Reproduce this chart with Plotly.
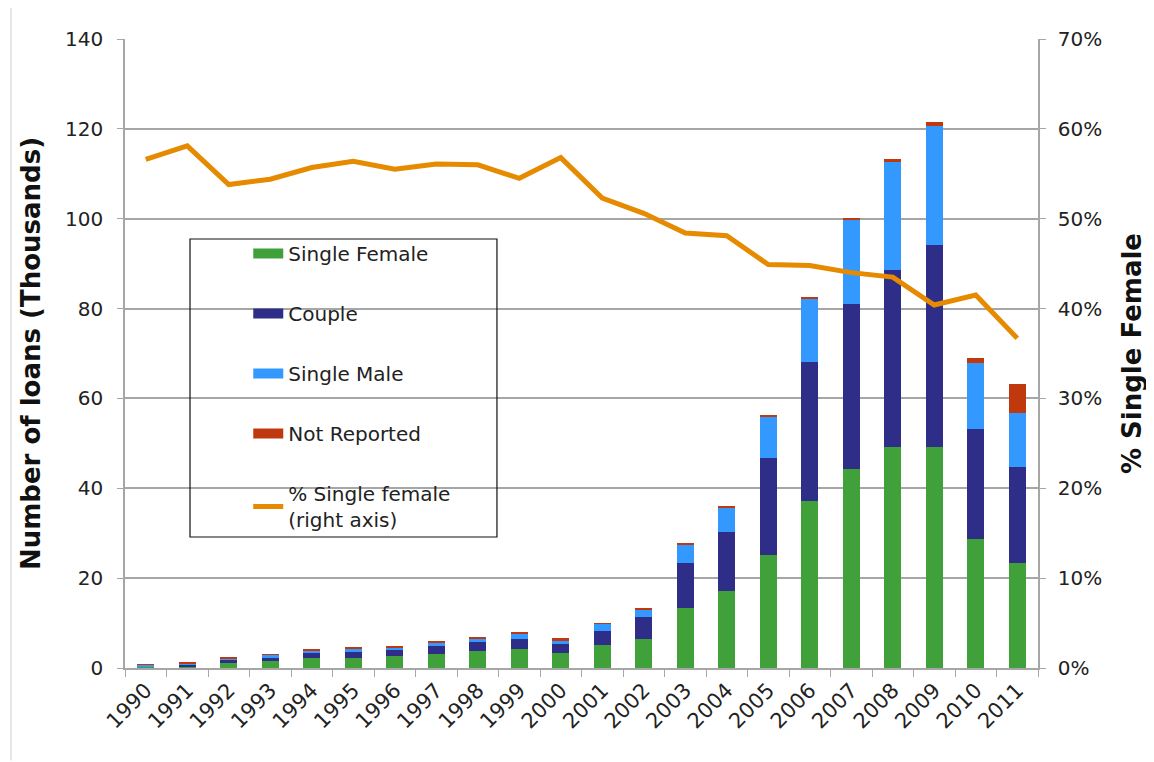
import plotly.graph_objects as go

years = [str(y) for y in range(1990, 2012)]
single_female = [0.3, 0.35, 1.2, 1.45, 2.3, 2.3, 2.6, 3.1, 3.7, 4.2, 3.3, 5.05, 6.5, 13.4, 17.1, 25.1, 37.1, 44.3, 49.3, 49.1, 28.8, 23.3]
couple_top = [0.35, 0.75, 1.85, 2.3, 3.4, 3.6, 4.0, 4.8, 5.7, 6.5, 5.4, 8.2, 11.4, 23.3, 30.2, 46.8, 68.0, 81.0, 88.6, 94.1, 53.3, 44.8]
male_top = [0.7, 0.98, 2.1, 2.9, 4.0, 4.3, 4.6, 5.6, 6.5, 7.6, 6.2, 9.8, 13.1, 27.4, 35.7, 56.0, 82.2, 99.9, 112.7, 120.7, 67.8, 56.8]
nr_top = [0.75, 1.2, 2.3, 3.1, 4.2, 4.6, 4.9, 6.0, 6.9, 8.0, 6.6, 10.0, 13.4, 27.7, 36.0, 56.3, 82.4, 100.1, 113.2, 121.5, 68.9, 63.2]
couple = [round(c - f, 2) for c, f in zip(couple_top, single_female)]
single_male = [round(m - c, 2) for m, c in zip(male_top, couple_top)]
not_reported = [round(n - m, 2) for n, m in zip(nr_top, male_top)]
pct_single_female = [0.566, 0.581, 0.538, 0.544, 0.557, 0.564, 0.555, 0.561, 0.560, 0.545, 0.568, 0.523, 0.506, 0.484, 0.481, 0.449, 0.448, 0.440, 0.435, 0.404, 0.415, 0.367]

left_ticks = [0, 20, 40, 60, 80, 100, 120, 140]
right_ticks = [0, 0.1, 0.2, 0.3, 0.4, 0.5, 0.6, 0.7]
right_labels = ["0%", "10%", "20%", "30%", "40%", "50%", "60%", "70%"]

FONT = "DejaVu Sans"
GRID = "#a6a6a6"
TXT = "#222222"

fig = go.Figure()
series = [
    ("Single Female", single_female, "#40A03A"),
    ("Couple", couple, "#2E2E88"),
    ("Single Male", single_male, "#3399FF"),
    ("Not Reported", not_reported, "#C0390E"),
]
for i, (name, vals, col) in enumerate(series):
    fig.add_trace(go.Bar(x=years, y=vals, name=name, marker=dict(color=col, line=dict(width=0)),
                         showlegend=False))
    # legend proxy (wide swatch like the original)
    fig.add_trace(go.Scatter(x=[None], y=[None], name=name, mode="lines",
                             line=dict(color=col, width=10), legendgroup=f"g{i}"))
fig.add_trace(go.Scatter(x=years, y=pct_single_female, name="% Single female<br>(right axis)",
                         mode="lines", line=dict(color="#E68A00", width=5), yaxis="y2",
                         legendgroup="g9"))

fig.update_layout(
    width=1146, height=754,
    margin=dict(l=117, r=116, t=31, b=94),
    paper_bgcolor="white", plot_bgcolor="white",
    barmode="stack", bargap=0.6,
    font=dict(family=FONT, size=20, color=TXT),
    showlegend=True,
    legend=dict(x=0.135, y=0.690, xanchor="left", yanchor="top",
                bgcolor="rgba(0,0,0,0)", borderwidth=0,
                traceorder="grouped", tracegroupgap=31,
                font=dict(family=FONT, size=20, color=TXT)),
    xaxis=dict(type="category", tickson="boundaries", showgrid=False, automargin=False,
               showline=True, linecolor=GRID, linewidth=1.5,
               ticks="outside", ticklen=7, tickcolor=GRID, tickangle=-45,
               tickfont=dict(size=21, family=FONT, color=TXT)),
    yaxis=dict(range=[0, 140], tickvals=left_ticks, showgrid=True, gridcolor=GRID, gridwidth=1.5,
               showline=True, linecolor=GRID, linewidth=1.5, ticks="outside", ticklen=6,
               tickcolor=GRID, zeroline=False, ticklabelstandoff=10, automargin=False,
               tickfont=dict(size=20, family=FONT, color=TXT),
               title=dict(text="<b>Number of loans (Thousands)</b>", font=dict(size=26, family=FONT, color="#111111"),
                          standoff=17)),
    yaxis2=dict(range=[0, 0.7], tickvals=right_ticks, ticktext=right_labels, overlaying="y", side="right",
                showgrid=False, showline=True, linecolor=GRID, linewidth=1.5, ticks="outside", ticklen=6,
                tickcolor=GRID, zeroline=False, ticklabelstandoff=8, automargin=False,
                tickfont=dict(size=20, family=FONT, color=TXT),
                title=dict(text="<b>% Single Female</b>", font=dict(size=26, family=FONT, color="#111111"),
                           standoff=22)),
    shapes=[
        dict(type="rect", xref="paper", yref="paper", x0=0.0712, x1=0.4074, y0=0.2083, y1=0.682,
             line=dict(color="#111111", width=1.2), fillcolor="rgba(0,0,0,0)", layer="above"),
        dict(type="line", xref="paper", yref="paper", x0=-0.1249, x1=-0.1249, y0=-0.147, y1=1.062,
             line=dict(color="#cfcfcf", width=1)),
    ],
)

fig.write_html("out.html")
